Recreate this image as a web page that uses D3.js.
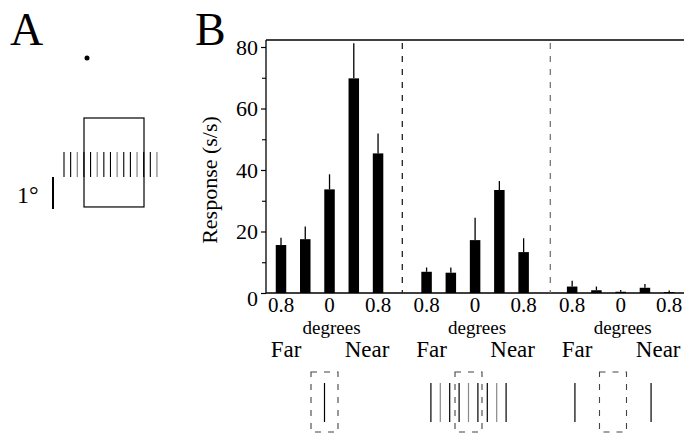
<!DOCTYPE html>
<html>
<head>
<meta charset="utf-8">
<script src="https://cdn.jsdelivr.net/npm/d3@7/dist/d3.min.js"></script>
<style>
  html, body { margin: 0; padding: 0; background: #fff; }
  svg { display: block; font-family: "Liberation Serif", "Times New Roman", serif; }
  svg text { font-family: "Liberation Serif", "Times New Roman", serif; fill: #000; }
</style>
</head>
<body>
<svg id="chart" width="684" height="433"></svg>
<script>
// ---------------- data ----------------
const disparities = ["0.8", "", "0", "", "0.8"];          // tick labels under bars
const disparityValues = [-0.8, -0.4, 0, 0.4, 0.8];
const conditions = ["single", "grating", "outside"];
const respSingle  = [15.6, 17.5, 33.7, 69.8, 45.4];
const errSingle   = [2.4, 4.1, 4.9, 11.4, 6.5];
const respGrating = [6.9, 6.6, 17.2, 33.5, 13.3];
const errGrating  = [1.4, 1.7, 7.3, 2.9, 4.5];
const respOutside = [2.1, 0.9, 0.4, 1.7, 0.3];
const errOutside  = [1.9, 1.2, 0.6, 1.2, 0.5];
const yTicks = [0, 20, 40, 60, 80];
const yMinorTicks = [10, 30, 50, 70];
const dividers = [5, 11.1];      // slot positions of dashed separators
// stimulus icons (positions of lines in degrees relative to RF centre)
const iconLines = [
  [0],
  [-1.6, -1.2, -0.8, -0.4, 0, 0.4, 0.8, 1.2, 1.6],
  [-1.62, 1.62]
];

const series = [respSingle, respGrating, respOutside];
const errors = [errSingle, errGrating, errOutside];

const bars = [];
series.forEach((vals, g) => vals.forEach((v, i) => bars.push({
  g, i, slot: g * 6 + i, value: v, err: errors[g][i]
})));

// ---------------- scales ----------------
const svg = d3.select("#chart");
const x = d3.scaleLinear().domain([0, 16]).range([281, 669.2]);
const y = d3.scaleLinear().domain([0, 80]).range([293, 47]);
const axisLeftX = 266, topY = 40;
const barW = 10.5;

// ---------------- Panel A ----------------
const A = svg.append("g");
A.append("text").attr("x", 10).attr("y", 45).attr("font-size", 46).text("A");
A.append("circle").attr("cx", 87).attr("cy", 58).attr("r", 2.5).attr("fill", "#000");
const degA = d3.scaleLinear().domain([0, 1]).range([0, 32]);   // 1 degree = 32 px
A.append("rect").attr("x", 84).attr("y", 118).attr("width", degA(1.875)).attr("height", degA(2.78))
  .attr("fill", "none").attr("stroke", "#000").attr("stroke-width", 1.2);
const grating = d3.range(15);
A.selectAll("line.gr").data(grating).join("line")
  .attr("x1", d => 64 + degA(d * 0.2075)).attr("x2", d => 64 + degA(d * 0.2075))
  .attr("y1", 152).attr("y2", 177)
  .attr("stroke", (d, i) => (i % 3 === 2 ? "#777" : "#000")).attr("stroke-width", 1.1);
A.append("line").attr("x1", 53).attr("x2", 53).attr("y1", 177).attr("y2", 177 + degA(1))
  .attr("stroke", "#000").attr("stroke-width", 2);
A.append("text").attr("x", 17).attr("y", 203).attr("font-size", 24).text("1°");

// ---------------- Panel B ----------------
const B = svg.append("g");
B.append("text").attr("x", 195).attr("y", 45).attr("font-size", 46).text("B");

// frame: top line and axis line
B.append("line").attr("x1", axisLeftX).attr("x2", 684).attr("y1", topY).attr("y2", topY)
  .attr("stroke", "#000").attr("stroke-width", 1.3);
B.append("line").attr("x1", axisLeftX).attr("x2", axisLeftX).attr("y1", topY).attr("y2", y(0))
  .attr("stroke", "#000").attr("stroke-width", 1.3);
B.append("line").attr("x1", axisLeftX).attr("x2", 684).attr("y1", y(0)).attr("y2", y(0))
  .attr("stroke", "#000").attr("stroke-width", 1.3);

// y axis ticks
const yAxis = d3.axisLeft(y).tickValues(yTicks).tickSize(5).tickPadding(3).tickFormat(d3.format("d"));
const yg = B.append("g").attr("transform", `translate(${axisLeftX},0)`).call(yAxis);
yg.attr("font-family", null).attr("font-size", null);
yg.select(".domain").remove();
yg.selectAll("text").attr("font-size", 22).attr("fill", "#000")
  .attr("dy", d => d === 0 ? "0.55em" : "0.34em");
yg.selectAll("line").attr("stroke", "#000").attr("stroke-width", 1.2);
const yMinor = d3.axisLeft(y).tickValues(yMinorTicks).tickSize(4).tickFormat("");
const ym = B.append("g").attr("transform", `translate(${axisLeftX},0)`).call(yMinor);
ym.select(".domain").remove();
ym.selectAll("line").attr("stroke", "#000").attr("stroke-width", 1.1);

// y title
B.append("text").attr("transform", `translate(217,${(y(0) + y(80)) / 2 + 10}) rotate(-90)`)
  .attr("text-anchor", "middle").attr("font-size", 22).text("Response (s/s)");

// dividers
B.selectAll("line.div").data(dividers).join("line")
  .attr("x1", d => x(d)).attr("x2", d => x(d)).attr("y1", topY + 3).attr("y2", y(0))
  .attr("stroke", (d, i) => i === 0 ? "#222" : "#777").attr("stroke-width", 1.3)
  .attr("stroke-dasharray", "6,7");

// bars
B.selectAll("rect.bar").data(bars).join("rect")
  .attr("x", d => x(d.slot) - barW / 2).attr("width", barW)
  .attr("y", d => y(d.value)).attr("height", d => y(0) - y(d.value)).attr("fill", "#000");
// error bars (upper only)
B.selectAll("line.err").data(bars).join("line")
  .attr("x1", d => x(d.slot)).attr("x2", d => x(d.slot))
  .attr("y1", d => y(d.value)).attr("y2", d => y(d.value + d.err))
  .attr("stroke", "#000").attr("stroke-width", 1.3);

// x tick labels
const xt = [];
conditions.forEach((c, g) => disparities.forEach((lab, i) => { if (lab) xt.push({ slot: g * 6 + i, lab }); }));
B.selectAll("text.xt").data(xt).join("text")
  .attr("x", d => x(d.slot)).attr("y", 312).attr("text-anchor", "middle").attr("font-size", 21)
  .text(d => d.lab);
B.selectAll("text.deg").data(conditions).join("text")
  .attr("x", (d, g) => x(g * 6 + 2) + 2).attr("y", 334).attr("text-anchor", "middle")
  .attr("font-size", 19).text("degrees");
B.selectAll("text.far").data(conditions).join("text")
  .attr("x", (d, g) => x(g * 6) + 5).attr("y", 357).attr("text-anchor", "middle")
  .attr("font-size", 23).text("Far");
B.selectAll("text.near").data(conditions).join("text")
  .attr("x", (d, g) => x(g * 6 + 4) - 11).attr("y", 357).attr("text-anchor", "middle")
  .attr("font-size", 23).text("Near");

// stimulus icons
const iconDeg = d3.scaleLinear().domain([0, 1]).range([0, 23.5]);
const iconCenters = [324.5, 468.5, 613];
conditions.forEach((c, g) => {
  const cx = iconCenters[g];
  const ig = svg.append("g");
  ig.append("rect").attr("x", cx - 13.5).attr("y", 372).attr("width", 27).attr("height", 60)
    .attr("fill", "none").attr("stroke", "#444").attr("stroke-width", 1.1).attr("stroke-dasharray", "6,7");
  ig.selectAll("line").data(iconLines[g]).join("line")
    .attr("x1", d => cx + iconDeg(d)).attr("x2", d => cx + iconDeg(d))
    .attr("y1", 383).attr("y2", 422)
    .attr("stroke", (d, i) => (g === 1 && i % 3 === 1) ? "#888" : "#000").attr("stroke-width", 1.2);
});
</script>
</body>
</html>
